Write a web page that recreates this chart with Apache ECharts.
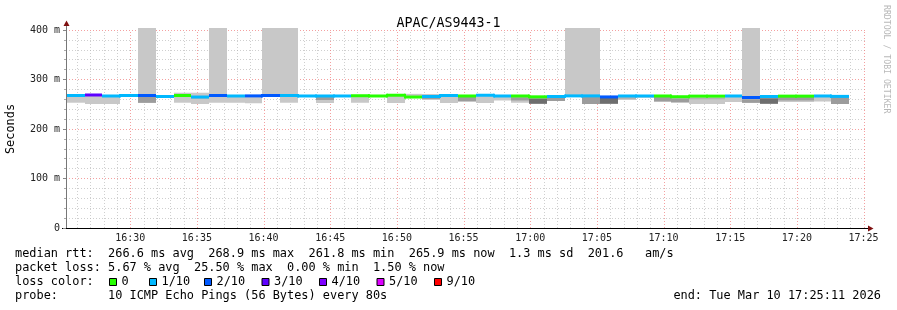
<!DOCTYPE html>
<html>
<head>
<meta charset="utf-8">
<script src="https://cdn.jsdelivr.net/npm/echarts@6.0.0/dist/echarts.min.js"></script>
<style>
html,body{margin:0;padding:0;background:#fff;}
#c{width:897px;height:310px;}
</style>
</head>
<body>
<div id="c"></div>
<script>
// ---------------- DATA ----------------
const TITLE = 'APAC/AS9443-1';
const WINDOW_START = '16:25:11';
const WINDOW_END = '17:25:11';
const STEP_SECONDS = 80;
const segStart = ['16:25:15','16:26:35','16:27:55','16:29:15','16:30:35','16:31:55','16:33:15','16:34:35','16:35:55','16:37:15',
  '16:38:35','16:39:55','16:41:15','16:42:35','16:43:55','16:45:15','16:46:35','16:47:55','16:49:15','16:50:35',
  '16:51:55','16:53:15','16:54:35','16:55:55','16:57:15','16:58:35','16:59:55','17:01:15','17:02:35','17:03:55',
  '17:05:15','17:06:35','17:07:55','17:09:15','17:10:35','17:11:55','17:13:15','17:14:35','17:15:55','17:17:15',
  '17:18:35','17:19:55','17:21:15','17:22:35'];
// median rtt (ms)
const medianRtt = [267.7,268.7,266.7,267.7,267.7,265.7,267.7,264.6,267.7,266.7,
  266.9,267.7,267.7,266.7,266.7,266.7,267.2,266.7,268.2,264.6,
  265.7,267.7,266.7,268.2,266.7,266.7,265.0,265.7,266.9,266.9,
  264.8,266.7,266.7,266.7,265.2,266.4,266.4,266.7,263.6,265.7,
  266.4,266.4,266.7,265.9];
// lost pings out of 10
const lossCount = [1,3,1,1,2,1,0,1,2,1,
  2,2,1,1,1,1,0,0,0,0,
  1,1,0,1,1,0,0,1,1,1,
  2,1,1,0,0,0,0,1,2,1,
  0,0,1,1];
// smoke: lowest and highest ping (ms); 404 = beyond top of chart
const smokeLo = [253.1,250.5,250.5,265.5,252.5,263.0,253.1,250.5,253.0,253.0,
  252.0,266.0,253.0,265.5,252.5,265.5,253.0,265.5,252.5,263.0,
  258.6,252.5,254.5,252.5,257.6,253.0,250.5,256.6,266.0,250.5,
  250.5,258.6,263.0,254.5,252.5,250.5,250.5,254.5,252.5,250.5,
  254.5,254.5,255.5,250.5];
const smokeHi = [268.0,269.0,267.0,268.0,404,267.5,273.3,273.3,404,267.0,
  267.0,404,404,267.5,267.0,267.5,268.0,267.5,268.5,271.0,
  270.7,268.0,267.0,268.5,267.0,267.0,265.5,266.5,404,404,
  265.5,268.7,267.0,267.0,265.5,267.0,267.0,267.0,404,266.5,
  267.0,267.0,267.0,267.0];
// denser inner smoke band (ms), null = none
const coreLo = [null,null,null,null,253.0,null,null,262.0,null,null,
  null,null,null,null,258.6,null,null,null,null,null,
  260.6,null,256.6,null,null,257.6,251.0,256.6,null,250.5,
  251.0,260.6,null,256.0,254.5,260.0,260.0,null,253.0,251.0,
  257.6,257.6,null,250.5];
const coreHi = [null,null,null,null,265.0,null,null,265.0,null,null,
  null,null,null,null,264.6,null,null,null,null,null,
  265.0,null,264.6,null,null,264.0,261.6,264.0,null,264.6,
  262.6,266.0,null,264.6,261.6,262.6,262.6,null,260.0,262.0,
  264.6,264.6,null,264.6];
const coreDensity = [0,0,0,0,2,0,0,2,0,0,
  0,0,0,0,2,0,0,0,0,0,
  2,0,2,0,0,2,3,2,0,2,
  3,1,0,2,2,1,1,0,2,3,
  2,2,0,2];
const lossColorLabels = ['0','1/10','2/10','3/10','4/10','5/10','9/10'];
const lossColorThresholds = [0,1,2,3,4,5,9];
const lossColors = ['#26ff00','#00b8ff','#0059ff','#5e00ff','#7e00ff','#dd00ff','#ff0000'];
const xTickLabels = ['16:30','16:35','16:40','16:45','16:50','16:55','17:00','17:05','17:10','17:15','17:20','17:25'];
const yTickValues = [0,100,200,300,400];
const rttStats = [266.6, 268.9, 261.8, 265.9];   // avg max min now (ms)
const rttSd = 1.3;
const rttAmS = 201.6;
const lossStats = ['5.67','25.50','0.00','1.50']; // avg max min now (%)
const probeText = '10 ICMP Echo Pings (56 Bytes) every 80s';
const endText = 'end: Tue Mar 10 17:25:11 2026';
const watermark = 'RRDTOOL / TOBI OETIKER';

// ---------------- HELPERS ----------------
function toSec(s){const p=s.split(':').map(Number);return p[0]*3600+p[1]*60+(p[2]||0);}
function fmtHM(v){const h=Math.floor(v/3600),m=Math.floor((v%3600)/60);return (h<10?'0':'')+h+':'+(m<10?'0':'')+m;}
function lossColor(n){let c=lossColors[0];for(let k=0;k<lossColorThresholds.length;k++){if(n>=lossColorThresholds[k])c=lossColors[k];}return c;}
const densityFill = {1:'#b2b2b2',2:'#9c9c9c',3:'#6e6e6e'};
const FONT = '"DejaVu Sans Mono", monospace';
const MAJOR_GRID = 'rgba(240,120,120,0.7)';
const MINOR_GRID = 'rgba(175,175,175,0.6)';

const tMin = toSec(WINDOW_START), tMax = toSec(WINDOW_END);
const xTicks = xTickLabels.map(toSec);
const minuteLines = [];
for (let t = Math.ceil(tMin/60)*60; t < tMax; t += 60) minuteLines.push([t, t % 300 === 0 ? 1 : 0]);

const segData = segStart.map((s,i)=>{
  const t0 = toSec(s);
  return [t0, t0+STEP_SECONDS, medianRtt[i], smokeLo[i], smokeHi[i],
    coreLo[i]==null?-1:coreLo[i], coreHi[i]==null?-1:coreHi[i], coreDensity[i], lossCount[i]];
});

// ---------------- CHART ----------------
const chart = echarts.init(document.getElementById('c'), null, {renderer:'canvas'});

const line1 = 'median rtt:  ' + rttStats[0].toFixed(1)+' ms avg  '+rttStats[1].toFixed(1)+' ms max  '+rttStats[2].toFixed(1)+' ms min  '+rttStats[3].toFixed(1)+' ms now  '+rttSd.toFixed(1)+' ms sd  '+rttAmS.toFixed(1)+'   am/s';
const line2 = 'packet loss: ' + lossStats[0]+' % avg  '+lossStats[1]+' % max  '+lossStats[2]+' % min  '+lossStats[3]+' % now';
const line3 = 'loss color:';
const line4 = 'probe:       ' + probeText;

const legendBoxX = [109,149,204,261.5,319,376.5,434];
const graphics = [];
function txt(x,y,t,opts){
  opts = opts||{};
  graphics.push({type:'text', x:x, y:y, silent:true, rotation: opts.rotation||0,
    style:{text:t, font:(opts.size||11.9)+'px '+FONT, fill:opts.color||'#000',
      textAlign:opts.align||'left', textVerticalAlign:'middle', align:opts.align||'left', verticalAlign:'middle'}});
}
txt(15,254,line1); txt(15,268,line2); txt(15,282,line3); txt(15,296,line4);
txt(881,296,endText,{align:'right'});
lossColorLabels.forEach((lab,k)=>{
  graphics.push({type:'rect', shape:{x:legendBoxX[k]+0.5,y:278.5,width:7,height:7}, silent:true,
    style:{fill:lossColors[k], stroke:'#000', lineWidth:1}});
  txt(legendBoxX[k]+12.5,282,lab);
});
txt(886,5,watermark,{size:8.2,color:'#b8b8b8',rotation:-Math.PI/2});
// axis arrows
graphics.push({type:'line', shape:{x1:66.5,y1:30,x2:66.5,y2:24}, silent:true, style:{stroke:'#777',lineWidth:1}});
graphics.push({type:'polygon', shape:{points:[[63.5,26],[69.5,26],[66.5,20.5]]}, silent:true, style:{fill:'#7f1010'}});
graphics.push({type:'line', shape:{x1:866,y1:228.5,x2:869,y2:228.5}, silent:true, style:{stroke:'#000',lineWidth:1}});
graphics.push({type:'polygon', shape:{points:[[868,225.5],[868,231.5],[873.5,228.5]]}, silent:true, style:{fill:'#7f1010'}});
graphics.push({type:'line', shape:{x1:62,y1:228.5,x2:66,y2:228.5}, silent:true, style:{stroke:'#000',lineWidth:1}});

const option = {
  animation:false,
  backgroundColor:'#ffffff',
  title:{text:TITLE, left:'center', top:12, textStyle:{fontFamily:FONT, fontSize:13.3, fontWeight:'normal', color:'#000'}},
  grid:{left:66, right:31, top:30, bottom:82, containLabel:false, outerBoundsMode:'none'},
  xAxis:{type:'value', min:tMin, max:tMax,
    axisLine:{show:true, onZero:false, lineStyle:{color:'#000', width:1}},
    axisTick:{show:false}, splitLine:{show:false},
    axisLabel:{customValues:xTicks, formatter:v=>fmtHM(v), fontFamily:FONT, fontSize:10, color:'#222', margin:5}},
  yAxis:{type:'value', min:0, max:400, interval:100,
    name:'Seconds', nameLocation:'middle', nameGap:49, nameRotate:90,
    nameTextStyle:{fontFamily:FONT, fontSize:11.9, color:'#000'},
    axisLine:{show:true, lineStyle:{color:'#777'}},
    axisTick:{show:true, length:3, lineStyle:{color:'#888'}},
    minorTick:{show:true, splitNumber:5, length:2, lineStyle:{color:'#aaa'}},
    splitLine:{show:true, lineStyle:{color:MAJOR_GRID, type:[1,2], width:1}},
    minorSplitLine:{show:true, lineStyle:{color:MINOR_GRID, type:[1,2], width:1}},
    axisLabel:{customValues:yTickValues, formatter:v=>v===0?'0':v+' m', fontFamily:FONT, fontSize:10, color:'#222', margin:6}},
  graphic:graphics,
  series:[
    { type:'custom', name:'vgrid', z:1, silent:true, data:minuteLines, encode:{x:0},
      renderItem:function(params, api){
        const t = api.value(0), major = api.value(1);
        const a = api.coord([t,0]), b = api.coord([t,400]);
        const x = Math.round(a[0])+0.5;
        return {type:'line', shape:{x1:x,y1:a[1],x2:x,y2:b[1]},
          style:{stroke: major? MAJOR_GRID:MINOR_GRID, lineWidth:1, lineDash:[1,2]}};
      }},
    { type:'custom', name:'smoke', z:3, silent:true, data:segData, encode:{x:[0,1], y:[3,4]},
      renderItem:function(params, api){
        const t0=api.value(0), t1=api.value(1);
        const children=[];
        const a=api.coord([t0, api.value(4)]), b=api.coord([t1, api.value(3)]);
        const x0=Math.round(a[0]), x1=Math.round(b[0]);
        children.push({type:'rect', shape:{x:x0,y:a[1],width:x1-x0,height:b[1]-a[1]}, style:{fill:'#c8c8c8'}});
        const cl=api.value(5), ch=api.value(6), d=api.value(7);
        if (cl>=0 && d>0){
          const c=api.coord([t0,ch]), e=api.coord([t1,cl]);
          children.push({type:'rect', shape:{x:x0,y:c[1],width:x1-x0,height:e[1]-c[1]}, style:{fill:densityFill[d]}});
        }
        return {type:'group', children:children};
      }},
    { type:'custom', name:'median', z:4, silent:true, data:segData, encode:{x:[0,1], y:2},
      renderItem:function(params, api){
        const i=params.dataIndex;
        const t0=api.value(0), t1=api.value(1), m=api.value(2);
        const col=lossColor(api.value(8));
        const a=api.coord([t0,m]), b=api.coord([t1,m]);
        const x0=Math.round(a[0]), x1=Math.round(b[0]);
        const children=[{type:'rect', shape:{x:x0,y:a[1]-1.5,width:x1-x0,height:3}, style:{fill:col}}];
        if (i>0 && lossColor(lossCount[i-1])===col){
          const p=api.coord([t0, medianRtt[i-1]]);
          const yTop=Math.min(p[1],a[1])-1.5, yBot=Math.max(p[1],a[1])+1.5;
          children.push({type:'rect', shape:{x:x0-1,y:yTop,width:2,height:yBot-yTop}, style:{fill:col}});
        }
        return {type:'group', children:children};
      }}
  ]
};
chart.setOption(option);
</script>
</body>
</html>
